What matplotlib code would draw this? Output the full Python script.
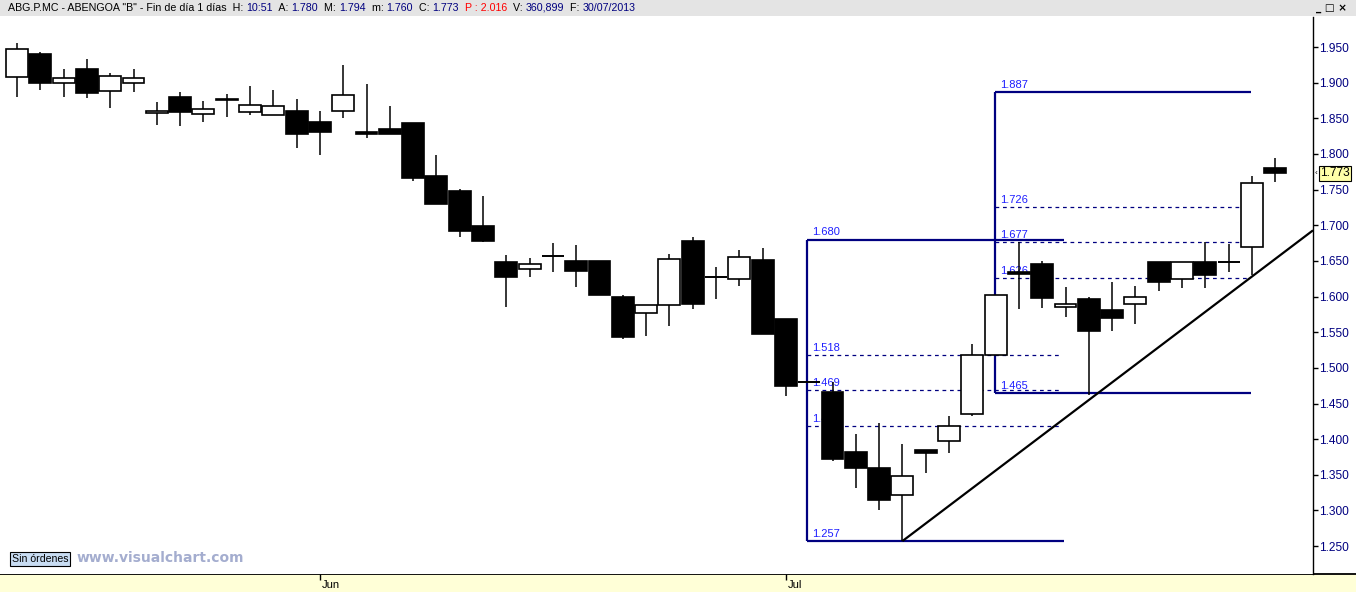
import matplotlib
matplotlib.use("Agg")
import matplotlib.pyplot as plt
import numpy as np
import pandas as pd
from matplotlib.patches import Rectangle

# ---------------- data ----------------
dates = pd.bdate_range("2013-05-15", "2013-07-30")

opens = [1.908, 1.940, 1.899, 1.919, 1.888, 1.899, 1.857, 1.880, 1.856, 1.877,
         1.859, 1.854, 1.860, 1.845, 1.860, 1.831, 1.835, 1.844, 1.769, 1.748,
         1.699, 1.648, 1.639, 1.657, 1.650, 1.650, 1.599, 1.577, 1.588, 1.678,
         1.628, 1.625, 1.651, 1.568, 1.480, 1.466, 1.382, 1.360, 1.321, 1.385,
         1.398, 1.435, 1.518, 1.635, 1.646, 1.585, 1.597, 1.581, 1.589, 1.649,
         1.625, 1.649, 1.649, 1.669, 1.780]
highs = [1.956, 1.943, 1.919, 1.933, 1.914, 1.919, 1.873, 1.887, 1.874, 1.884,
         1.895, 1.890, 1.877, 1.860, 1.925, 1.898, 1.867, 1.844, 1.799, 1.751,
         1.741, 1.658, 1.654, 1.675, 1.673, 1.650, 1.602, 1.588, 1.659, 1.683,
         1.641, 1.665, 1.668, 1.568, 1.480, 1.480, 1.407, 1.423, 1.393, 1.385,
         1.433, 1.533, 1.602, 1.676, 1.650, 1.613, 1.600, 1.620, 1.615, 1.649,
         1.649, 1.676, 1.674, 1.769, 1.794]
lows = [1.880, 1.890, 1.880, 1.878, 1.864, 1.887, 1.841, 1.839, 1.845, 1.852,
        1.855, 1.854, 1.809, 1.798, 1.851, 1.823, 1.828, 1.762, 1.730, 1.683,
        1.676, 1.586, 1.627, 1.634, 1.613, 1.602, 1.540, 1.545, 1.558, 1.582,
        1.596, 1.615, 1.547, 1.461, 1.480, 1.370, 1.331, 1.300, 1.257, 1.352,
        1.380, 1.432, 1.518, 1.582, 1.584, 1.572, 1.462, 1.551, 1.561, 1.608,
        1.612, 1.612, 1.634, 1.630, 1.760]
closes = [1.947, 1.899, 1.906, 1.886, 1.909, 1.906, 1.860, 1.859, 1.863, 1.875,
          1.868, 1.867, 1.828, 1.831, 1.882, 1.828, 1.828, 1.766, 1.730, 1.692,
          1.678, 1.627, 1.646, 1.657, 1.636, 1.602, 1.543, 1.588, 1.653, 1.589,
          1.628, 1.656, 1.547, 1.474, 1.480, 1.372, 1.359, 1.314, 1.349, 1.380,
          1.419, 1.518, 1.602, 1.631, 1.598, 1.589, 1.551, 1.570, 1.599, 1.620,
          1.649, 1.630, 1.649, 1.759, 1.773]

price_ticks = [1.25, 1.30, 1.35, 1.40, 1.45, 1.50, 1.55, 1.60, 1.65, 1.70,
               1.75, 1.80, 1.85, 1.90, 1.95]
month_labels = ["Jun", "Jul"]

# Fibonacci drawings (levels as labelled on the chart)
fib1_levels = [1.680, 1.518, 1.469, 1.418, 1.257]
fib1_span = (33.9, 44.95)
fib2_levels = [1.887, 1.726, 1.677, 1.626, 1.465]
fib2_span = (41.97, 52.95)

# trend line anchors (bar index, price)
trend_p1 = (38, 1.257)
trend_p2 = (53, 1.628)

last_price = 1.773

# -------------- figure ----------------
W, H = 1356, 592
fig = plt.figure(figsize=(W / 100, H / 100), dpi=100, facecolor="white")
plt.rcParams["font.family"] = ["Liberation Sans", "DejaVu Sans"]

NAVY = "#000080"
BLUE = "#1E1EFF"

top_px, bot_px, right_px = 17, 574, 1313
ax = fig.add_axes([0, (H - bot_px) / H, right_px / W, (bot_px - top_px) / H], zorder=2)
ax.set_facecolor("white")

# price scale: 1.950 at y=47 px, 713 px per unit
ppu = 713.0
ax.set_ylim(1.95 - (bot_px - 47) / ppu, 1.95 + (47 - top_px) / ppu)
step = 23.3
ax.set_xlim((0 - 17) / step, (right_px - 17) / step)

x = np.arange(len(dates))
w = 0.94
for i in x:
    o, h, l, c = opens[i], highs[i], lows[i], closes[i]
    ax.vlines(i, l, h, color="black", lw=1.1, zorder=5)
    if abs(c - o) < 0.001:
        ax.hlines(o, i - w / 2, i + w / 2, color="black", lw=1.4, zorder=6)
    else:
        fc = "white" if c > o else "black"
        ax.add_patch(Rectangle((i - w / 2, min(o, c)), w, abs(c - o),
                               facecolor=fc, edgecolor="black", lw=1.2, zorder=6))


def draw_fib(levels, span):
    x0, x1 = span
    hi, lo = levels[0], levels[-1]
    ax.vlines(x0, lo, hi, color=NAVY, lw=1.6, zorder=3)
    ax.hlines([hi, lo], x0, x1, color=NAVY, lw=1.6, zorder=3)
    ax.hlines(levels[1:-1], x0, x1 - 0.1, color=NAVY, lw=0.9,
              linestyles=(0, (3, 3)), zorder=3)
    for lv in levels:
        ax.annotate(f"{lv:.3f}", xy=(x0, lv), xytext=(3.5, 1.5),
                    textcoords="offset points", ha="left", va="bottom",
                    color=BLUE, fontsize=8, zorder=4)


draw_fib(fib1_levels, fib1_span)
draw_fib(fib2_levels, fib2_span)

# trend line
slope = (trend_p2[1] - trend_p1[1]) / (trend_p2[0] - trend_p1[0])
xe = ax.get_xlim()[1]
ax.plot([trend_p1[0], xe], [trend_p1[1], trend_p1[1] + slope * (xe - trend_p1[0])],
        color="black", lw=1.6, zorder=7, solid_capstyle="butt")

# axes styling
for s in ["left", "top", "bottom"]:
    ax.spines[s].set_visible(False)
ax.spines["right"].set_color("black")
ax.spines["right"].set_linewidth(1.0)
ax.yaxis.tick_right()
ax.set_yticks(price_ticks)
ax.set_yticklabels([f"{t:.3f}" for t in price_ticks])
ax.tick_params(axis="y", direction="out", length=3.5, width=1, color="black",
               labelcolor=NAVY, labelsize=8.6, pad=1)

# month ticks
month_idx = [int(np.argmax(dates.month == m)) for m in (6, 7)]
ax.set_xticks(month_idx)
ax.set_xticklabels([])
ax.tick_params(axis="x", direction="out", length=4.5, width=1, color="black")
for mi, lab in zip(month_idx, month_labels):
    ax.annotate(lab, xy=(mi, 0), xycoords=("data", "axes fraction"),
                xytext=(1.5, -4), textcoords="offset points", ha="left", va="top",
                fontsize=8, color="black", annotation_clip=False)

# last price marker
ax.annotate(f"{last_price:.3f}", xy=(1, last_price), xycoords=("axes fraction", "data"),
            xytext=(5, 0), textcoords="offset points", ha="left", va="center",
            fontsize=8.6, color="black", annotation_clip=False, zorder=10,
            bbox=dict(boxstyle="square,pad=0.12", fc="#FFFFA8", ec="black", lw=0.8))
ax.annotate("\u2039", xy=(1, last_price), xycoords=("axes fraction", "data"),
            xytext=(1.5, 0), textcoords="offset points", ha="left", va="center",
            fontsize=6, color="black", annotation_clip=False)

# bottom date strip
strip = fig.add_axes([0, 0, 1, (H - bot_px) / H], zorder=0)
strip.set_facecolor("#FFFFD7")
strip.set_xticks([]); strip.set_yticks([])
for s in ["left", "right", "bottom"]:
    strip.spines[s].set_visible(False)
strip.spines["top"].set_linewidth(1.3)

# title bar
fig.add_artist(Rectangle((0, 1 - 16 / H), 1, 16 / H, transform=fig.transFigure,
                         facecolor="#E4E4E4", edgecolor="none", zorder=0))
segments = [
    ('ABG.P.MC - ABENGOA "B" - Fin de día 1 días  H: ', "black"),
    ("10:51", NAVY), ("  A: ", "black"), ("1.780", NAVY),
    ("  M: ", "black"), ("1.794", NAVY), ("  m: ", "black"), ("1.760", NAVY),
    ("  C: ", "black"), ("1.773", NAVY), ("  P : 2.016", "#FF0000"),
    ("  V: ", "black"), ("360,899", NAVY), ("  F: ", "black"), ("30/07/2013", NAVY),
]
prev = fig.text(8 / W, 1 - 8 / H, segments[0][0], color=segments[0][1],
                fontsize=7.7, ha="left", va="center")
for txt, col in segments[1:]:
    prev = ax.annotate(txt, xy=(1, 0), xycoords=prev, xytext=(0, 0),
                       textcoords="offset points", ha="left", va="bottom",
                       color=col, fontsize=7.7, annotation_clip=False)

# window buttons
fig.text(1316 / W, 1 - 8 / H, "_ \u25a1 \u00d7", fontsize=7.5, color="black",
         ha="left", va="center", family="DejaVu Sans", fontweight="bold")

# watermark
fig.text(12 / W, 1 - 559 / H, "Sin órdenes", fontsize=7.6, color="black",
         ha="left", va="center",
         bbox=dict(boxstyle="square,pad=0.18", fc="#C8DCF2", ec="black", lw=0.8))
fig.text(77 / W, 1 - 558 / H, "www.visualchart.com", fontsize=10, color="#A4ADCF",
         ha="left", va="center", fontweight="bold", family="DejaVu Sans")

fig.savefig("out.png", dpi=100, facecolor="white")
